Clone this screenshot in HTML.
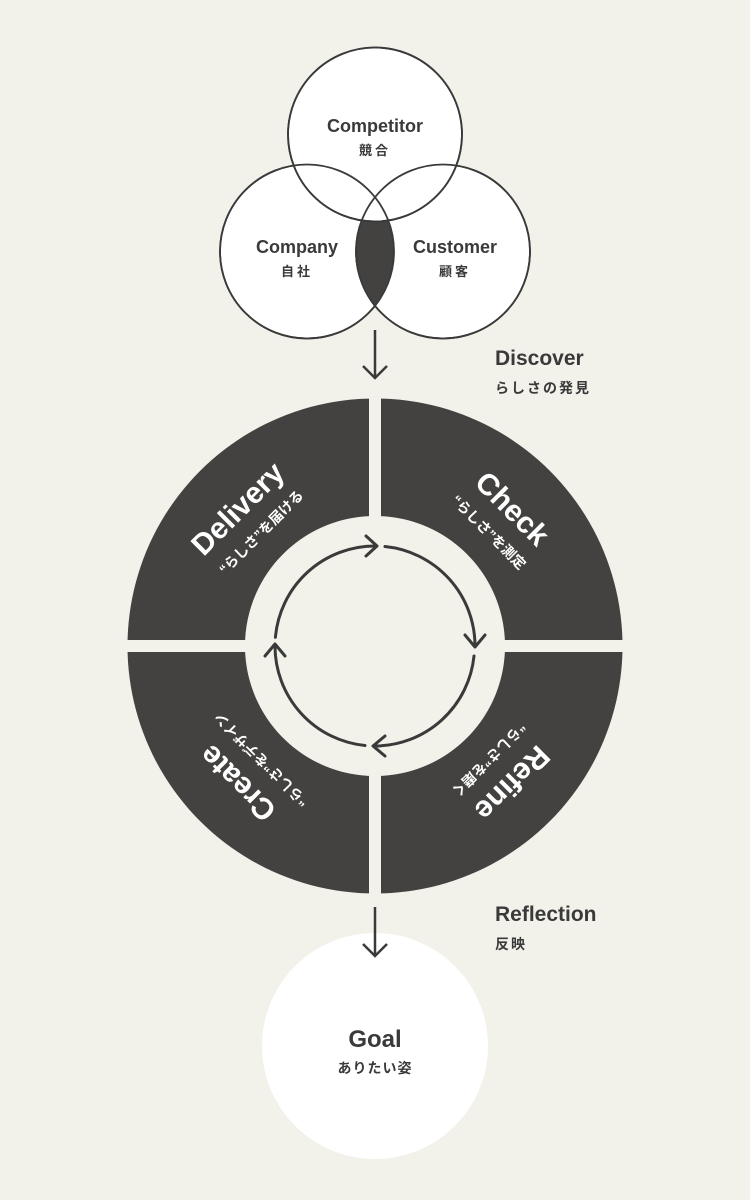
<!DOCTYPE html>
<html><head><meta charset="utf-8"><style>
html,body{margin:0;padding:0;background:#f2f1ea;}
svg{display:block}
text{font-family:"Liberation Sans","Noto Sans CJK JP",sans-serif;}
</style></head><body>
<svg width="750" height="1200" viewBox="0 0 750 1200" xmlns="http://www.w3.org/2000/svg">
<rect width="750" height="1200" fill="#f2f1ea"/>
<defs>
<clipPath id="cl"><circle cx="307" cy="251.5" r="87"/></clipPath>
<mask id="mk"><rect width="750" height="1200" fill="white"/><circle cx="375" cy="134.5" r="87" fill="black"/></mask>
<clipPath id="q1"><rect x="0" y="0" width="369" height="640"/></clipPath>
<clipPath id="q2"><rect x="381" y="0" width="369" height="640"/></clipPath>
<clipPath id="q3"><rect x="381" y="652" width="369" height="600"/></clipPath>
<clipPath id="q4"><rect x="0" y="652" width="369" height="600"/></clipPath>
</defs>
<g stroke="#3a3a3a" stroke-width="1.8">
<circle cx="307" cy="251.5" r="87" fill="#fff"/>
<circle cx="443" cy="251.5" r="87" fill="#fff"/>
<circle cx="375" cy="134.5" r="87" fill="#fff"/>
</g>
<g clip-path="url(#cl)" mask="url(#mk)"><circle cx="443" cy="251.5" r="87" fill="#434240"/></g>
<g fill="none" stroke="#3a3a3a" stroke-width="1.8">
<circle cx="307" cy="251.5" r="87"/>
<circle cx="443" cy="251.5" r="87"/>
<circle cx="375" cy="134.5" r="87"/>
</g>
<g fill="#3a3a3a" text-anchor="middle">
<text x="375" y="132" font-size="18" font-weight="bold">Competitor</text>
<text x="375" y="155" font-size="13" font-weight="bold" letter-spacing="3">競合</text>
<text x="297" y="253" font-size="18" font-weight="bold">Company</text>
<text x="297" y="276" font-size="13" font-weight="bold" letter-spacing="3">自社</text>
<text x="455" y="253" font-size="18" font-weight="bold">Customer</text>
<text x="455" y="276" font-size="13" font-weight="bold" letter-spacing="3">顧客</text>
</g>
<g fill="#3a3a3a">
<text x="495" y="365" font-size="21" font-weight="bold">Discover</text>
<text x="495" y="393" font-size="14" font-weight="bold" letter-spacing="2">らしさの発見</text>
<text x="495" y="921" font-size="21" font-weight="bold">Reflection</text>
<text x="495" y="949" font-size="14" font-weight="bold" letter-spacing="2">反映</text>
</g>
<g fill="#434240">
<path clip-path="url(#q1)" fill-rule="evenodd" d="M375 398.5a247.5 247.5 0 1 0 0.01 0z M375 516a130 130 0 1 1 -0.01 0z"/>
<path clip-path="url(#q2)" fill-rule="evenodd" d="M375 398.5a247.5 247.5 0 1 0 0.01 0z M375 516a130 130 0 1 1 -0.01 0z"/>
<path clip-path="url(#q3)" fill-rule="evenodd" d="M375 398.5a247.5 247.5 0 1 0 0.01 0z M375 516a130 130 0 1 1 -0.01 0z"/>
<path clip-path="url(#q4)" fill-rule="evenodd" d="M375 398.5a247.5 247.5 0 1 0 0.01 0z M375 516a130 130 0 1 1 -0.01 0z"/>
</g>
<g fill="none" stroke="#3a3a3a" stroke-width="3" stroke-linecap="round" stroke-linejoin="round">
<path d="M275.4 637.3 A100 100 0 0 1 375 546"/>
<path d="M366 536 L377 546 L366 556"/>
<path d="M385 546.5 A100 100 0 0 1 475 646"/>
<path d="M465 635 L475 647 L485 635"/>
<path d="M474 656 A100 100 0 0 1 375 746"/>
<path d="M385 736 L373 746 L385 756"/>
<path d="M365 745.5 A100 100 0 0 1 275 646"/>
<path d="M265 656 L275 644 L285 656"/>
</g>
<g fill="#fff" text-anchor="middle">
<g transform="translate(375 646) rotate(-45)">
<text x="0" y="-184" font-size="30" font-weight="bold">Delivery</text>
<text x="0" y="-156" font-size="14" font-weight="bold">“らしさ”を届ける</text>
</g>
<g transform="translate(375 646) rotate(45)">
<text x="0" y="-184" font-size="30" font-weight="bold">Check</text>
<text x="0" y="-156" font-size="14" font-weight="bold">“らしさ”を測定</text>
</g>
<g transform="translate(375 646) rotate(135)">
<text x="0" y="-184" font-size="30" font-weight="bold">Refine</text>
<text x="0" y="-156" font-size="14" font-weight="bold">“らしさ”を磨く</text>
</g>
<g transform="translate(375 646) rotate(-135)">
<text x="0" y="-184" font-size="30" font-weight="bold">Create</text>
<text x="0" y="-156" font-size="14" font-weight="bold">“らしさ”をデザイン</text>
</g>
</g>
<circle cx="375" cy="1046" r="113" fill="#fff"/>
<g fill="none" stroke="#3a3a3a" stroke-width="2.5">
<path d="M375 330 V378 M363 366 L375 378 L387 366"/>
<path d="M375 907 V956 M363 944 L375 956 L387 944"/>
</g>
<g fill="#3a3a3a" text-anchor="middle">
<text x="375" y="1047" font-size="24" font-weight="bold">Goal</text>
<text x="375" y="1073" font-size="14" font-weight="bold" letter-spacing="1">ありたい姿</text>
</g>
</svg>
</body></html>
